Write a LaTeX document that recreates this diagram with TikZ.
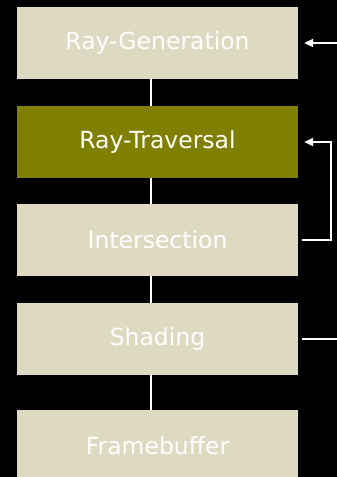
\documentclass[tikz,border=0pt]{standalone}
\usepackage{fontspec}
\setmainfont{DejaVu Sans}
\usetikzlibrary{arrows.meta}
\definecolor{stagebg}{HTML}{DEDAC1}
\definecolor{olive}{HTML}{808000}
\begin{document}
\begin{tikzpicture}[x=1pt, y=-1pt,
    stage/.style={rectangle, fill=stagebg, text=white, minimum width=281pt,
        minimum height=72pt, inner sep=0pt, font=\fontsize{23.5}{28}\selectfont},
    active/.style={stage, fill=olive},
    link/.style={draw=white, line width=2.2pt},
    flow/.style={draw=white, line width=2pt},
    tip/.style={-{Triangle[length=9pt,width=8pt]}}]
    % black page, cut at the bottom edge
    \fill[black] (0,0) rectangle (337,477);
    \useasboundingbox (0,0) rectangle (337,477);
    \clip (0,0) rectangle (337,477);
    % helper columns
    \coordinate (spine) at (151,0);
    \coordinate (loop) at (331,0);
    \coordinate (edge) at (337,0);
    % pipeline stages
    \node[stage]  (gen)   at (157.5,43)  {Ray-Generation};
    \node[active] (trav)  at (157.5,142) {Ray-Traversal};
    \node[stage]  (isec)  at (157.5,240) {Intersection};
    \node[stage]  (shade) at (157.5,339) {Shading};
    \node[stage]  (fb)    at (157.5,446) {Framebuffer};
    % vertical links
    \draw[link] (gen.south -| spine)   -- (trav.north -| spine);
    \draw[link] (trav.south -| spine)  -- (isec.north -| spine);
    \draw[link] (isec.south -| spine)  -- (shade.north -| spine);
    \draw[link] (shade.south -| spine) -- (fb.north -| spine);
    % side arrows
    \draw[flow, tip] (gen.east -| edge) -- ([xshift=6pt]gen.east);
    \draw[flow, tip] ([xshift=4pt]isec.east) -- (isec.east -| loop)
        -- (trav.east -| loop) -- ([xshift=6pt]trav.east);
    \draw[flow] ([xshift=4pt]shade.east) -- (shade.east -| edge);
\end{tikzpicture}
\end{document}
